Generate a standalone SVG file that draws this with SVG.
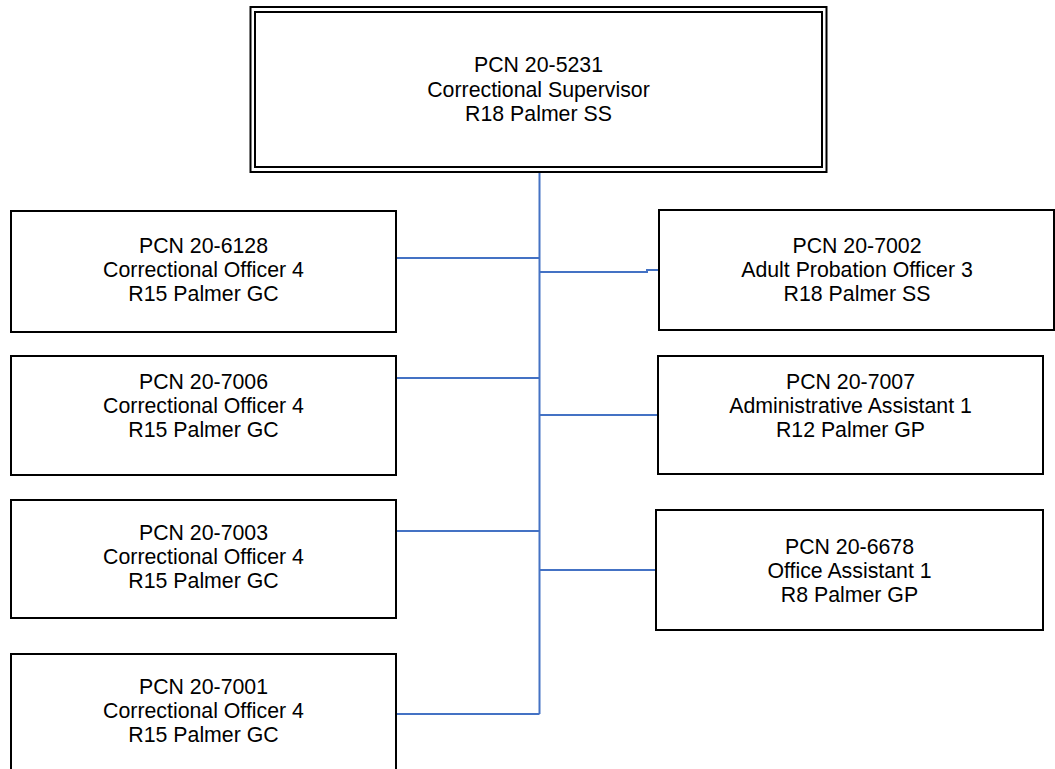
<svg xmlns="http://www.w3.org/2000/svg" width="1055" height="769" viewBox="0 0 1055 769">
<style>
.box{fill:#fff;stroke:#000;stroke-width:2}
.t{font-family:"Liberation Sans",Arial,sans-serif;font-size:21.3px;fill:#000;text-anchor:middle}
.c{fill:none;stroke:#4472C4;stroke-width:2}
</style>
<rect width="1055" height="769" fill="#fff"/>
<g id="connectors">
<line class="c" x1="539.5" y1="172" x2="539.5" y2="714"/>
<line class="c" x1="396" y1="258" x2="539.5" y2="258"/>
<line class="c" x1="396" y1="378" x2="539.5" y2="378"/>
<line class="c" x1="396" y1="531" x2="539.5" y2="531"/>
<line class="c" x1="396" y1="714" x2="539.5" y2="714"/>
<polyline class="c" points="539.5,272 647,272 647,270 659,270"/>
<line class="c" x1="539.5" y1="415" x2="658" y2="415"/>
<line class="c" x1="539.5" y1="570" x2="656" y2="570"/>
</g>
<g id="n5231">
<rect x="250.5" y="7" width="576" height="165" fill="#fff" stroke="#000" stroke-width="2"/>
<rect x="255" y="12" width="567" height="155" fill="none" stroke="#000" stroke-width="2"/>
<text class="t" x="538.5" y="72">PCN 20-5231</text>
<text class="t" x="538.5" y="96.5">Correctional Supervisor</text>
<text class="t" x="538.5" y="121">R18 Palmer SS</text>
</g>
<g id="n6128">
<rect class="box" x="11" y="211" width="385" height="121"/>
<text class="t" x="203.5" y="252.5">PCN 20-6128</text>
<text class="t" x="203.5" y="276.5">Correctional Officer 4</text>
<text class="t" x="203.5" y="300.5">R15 Palmer GC</text>
</g>
<g id="n7006">
<rect class="box" x="11" y="356" width="385" height="119"/>
<text class="t" x="203.5" y="388.5">PCN 20-7006</text>
<text class="t" x="203.5" y="412.5">Correctional Officer 4</text>
<text class="t" x="203.5" y="436.5">R15 Palmer GC</text>
</g>
<g id="n7003">
<rect class="box" x="11" y="500" width="385" height="118"/>
<text class="t" x="203.5" y="539.5">PCN 20-7003</text>
<text class="t" x="203.5" y="563.5">Correctional Officer 4</text>
<text class="t" x="203.5" y="587.5">R15 Palmer GC</text>
</g>
<g id="n7001">
<rect class="box" x="11" y="654" width="385" height="130"/>
<text class="t" x="203.5" y="693.5">PCN 20-7001</text>
<text class="t" x="203.5" y="717.5">Correctional Officer 4</text>
<text class="t" x="203.5" y="741.5">R15 Palmer GC</text>
</g>
<g id="n7002">
<rect class="box" x="659" y="210" width="395" height="120"/>
<text class="t" x="857" y="252.5">PCN 20-7002</text>
<text class="t" x="857" y="276.5">Adult Probation Officer 3</text>
<text class="t" x="857" y="300.5">R18 Palmer SS</text>
</g>
<g id="n7007">
<rect class="box" x="658" y="356" width="385" height="118"/>
<text class="t" x="850.5" y="388.5">PCN 20-7007</text>
<text class="t" x="850.5" y="412.5">Administrative Assistant 1</text>
<text class="t" x="850.5" y="436.5">R12 Palmer GP</text>
</g>
<g id="n6678">
<rect class="box" x="656" y="510" width="387" height="120"/>
<text class="t" x="849.5" y="553.5">PCN 20-6678</text>
<text class="t" x="849.5" y="577.5">Office Assistant 1</text>
<text class="t" x="849.5" y="601.5">R8 Palmer GP</text>
</g>
</svg>
